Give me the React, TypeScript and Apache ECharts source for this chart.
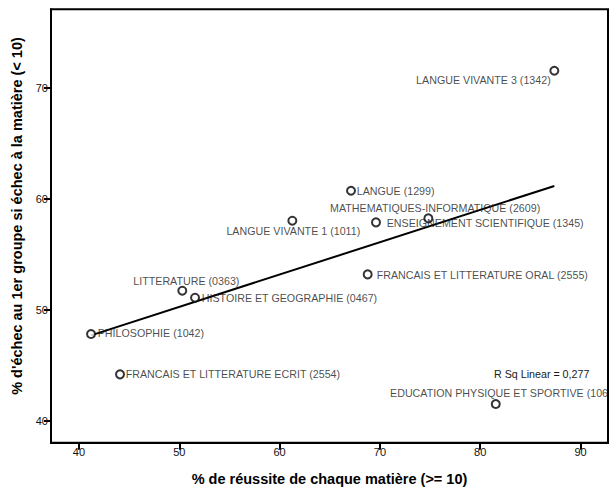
import React, { useEffect, useRef } from "react";
import * as echarts from "echarts";

const subjects = [
  "LANGUE VIVANTE 3 (1342)",
  "LANGUE (1299)",
  "MATHEMATIQUES-INFORMATIQUE (2609)",
  "ENSEIGNEMENT SCIENTIFIQUE (1345)",
  "LANGUE VIVANTE 1 (1011)",
  "FRANCAIS ET LITTERATURE ORAL (2555)",
  "LITTERATURE (0363)",
  "HISTOIRE ET GEOGRAPHIE (0467)",
  "PHILOSOPHIE (1042)",
  "FRANCAIS ET LITTERATURE ECRIT (2554)",
  "EDUCATION PHYSIQUE ET SPORTIVE (106",
];
const successRate = [87.39, 67.12, 74.83, 69.61, 61.27, 68.78, 50.3, 51.57, 41.2, 44.09, 81.55];
const failRate = [71.53, 60.73, 58.24, 57.88, 58.03, 53.2, 51.73, 51.1, 47.83, 44.2, 41.53];

const xTicks = [40, 50, 60, 70, 80, 90];
const yTicks = [40, 50, 60, 70];

const xTitle = "% de réussite de chaque matière (>= 10)";
const yTitle = "% d'échec au 1er groupe si échec à la matière (< 10)";
const rSquaredText = "R Sq Linear = 0,277";

// label placement (align, dx, dy) relative to each point's centre
const labelLayout: Record<string, [string, number, number]> = {
  "LANGUE VIVANTE 3 (1342)": ["right", -3.6, 9.3],
  "LANGUE (1299)": ["left", 5.7, 0],
  "MATHEMATIQUES-INFORMATIQUE (2609)": ["left", -98.3, -10.6],
  "ENSEIGNEMENT SCIENTIFIQUE (1345)": ["left", 10.7, 1],
  "LANGUE VIVANTE 1 (1011)": ["center", 1, 10],
  "FRANCAIS ET LITTERATURE ORAL (2555)": ["left", 9, 0.7],
  "LITTERATURE (0363)": ["left", -49, -9.7],
  "HISTOIRE ET GEOGRAPHIE (0467)": ["left", 6.7, 0],
  "PHILOSOPHIE (1042)": ["left", 6.7, -1],
  "FRANCAIS ET LITTERATURE ECRIT (2554)": ["left", 5.7, 0],
  "EDUCATION PHYSIQUE ET SPORTIVE (106": ["left", -105.7, -10.7],
};

const FONT = "'Liberation Sans', Arial, Helvetica, sans-serif";

function linearFit(xs: number[], ys: number[]) {
  const n = xs.length;
  const mx = xs.reduce((a, b) => a + b, 0) / n;
  const my = ys.reduce((a, b) => a + b, 0) / n;
  let sxy = 0;
  let sxx = 0;
  for (let i = 0; i < n; i++) {
    sxy += (xs[i] - mx) * (ys[i] - my);
    sxx += (xs[i] - mx) * (xs[i] - mx);
  }
  const slope = sxy / sxx;
  const intercept = my - slope * mx;
  return { slope, intercept };
}

export default function App() {
  const ref = useRef<HTMLDivElement>(null);

  useEffect(() => {
    document.body.style.margin = "0";
    if (!ref.current) return;
    const chart = echarts.init(ref.current, undefined, { renderer: "svg" });

    const fit = linearFit(successRate, failRate);
    const xMin = Math.min(...successRate);
    const xMax = Math.max(...successRate);
    const fitLine = [
      [xMin, fit.intercept + fit.slope * xMin],
      [xMax, fit.intercept + fit.slope * xMax],
    ];

    const points = subjects.map((name, i) => {
      const [align, dx, dy] = labelLayout[name];
      return {
        name,
        value: [successRate[i], failRate[i]],
        label: {
          show: true,
          position: "inside",
          align,
          verticalAlign: "middle",
          offset: [dx, dy],
          formatter: "{b}",
        },
      };
    });

    chart.setOption({
      animation: false,
      backgroundColor: "#fff",
      grid: {
        left: 51,
        right: 3,
        top: 9.3,
        bottom: 52.3,
        show: true,
        borderColor: "#000",
        borderWidth: 2,
        backgroundColor: "transparent",
      },
      xAxis: {
        type: "value",
        min: 37.21,
        max: 92.74,
        name: xTitle,
        nameLocation: "middle",
        nameGap: 29,
        nameTextStyle: { fontFamily: FONT, fontSize: 14.5, fontWeight: "bold", color: "#000" },
        axisLine: { show: true, lineStyle: { color: "#000", width: 2 } },
        axisTick: { show: true, length: 7, lineStyle: { color: "#000", width: 2 }, customValues: xTicks },
        axisLabel: { fontFamily: FONT, fontSize: 11, color: "#111", margin: 4, customValues: xTicks },
        splitLine: { show: false },
      },
      yAxis: {
        type: "value",
        min: 38.05,
        max: 77.06,
        name: yTitle,
        nameLocation: "middle",
        nameGap: 26,
        nameRotate: 90,
        nameTextStyle: {
          fontFamily: FONT,
          fontSize: 14.5,
          fontWeight: "bold",
          color: "#000",
          padding: [0, 0, 0, 20],
        },
        axisLine: { show: true, lineStyle: { color: "#000", width: 2 } },
        axisTick: { show: true, length: 7, lineStyle: { color: "#000", width: 2 }, customValues: yTicks },
        axisLabel: { fontFamily: FONT, fontSize: 11, color: "#111", margin: 3, customValues: yTicks },
        splitLine: { show: false },
      },
      series: [
        {
          type: "line",
          data: fitLine,
          symbol: "none",
          lineStyle: { color: "#000", width: 2 },
          z: 2,
          silent: true,
        },
        {
          type: "scatter",
          data: points,
          symbol: "circle",
          symbolSize: 8,
          itemStyle: { color: "#fff", borderColor: "#000", borderWidth: 2 },
          label: { fontFamily: FONT, fontSize: 10.7, color: "#1a1a1a" },
          z: 3,
        },
      ],
      graphic: [
        {
          type: "text",
          left: 494,
          top: 368,
          z: 10,
          style: { text: rSquaredText, font: `10.7px ${FONT}`, fill: "#1a1a1a" },
        },
      ],
    });

    return () => chart.dispose();
  }, []);

  return <div ref={ref} style={{ width: 611, height: 495 }} />;
}
